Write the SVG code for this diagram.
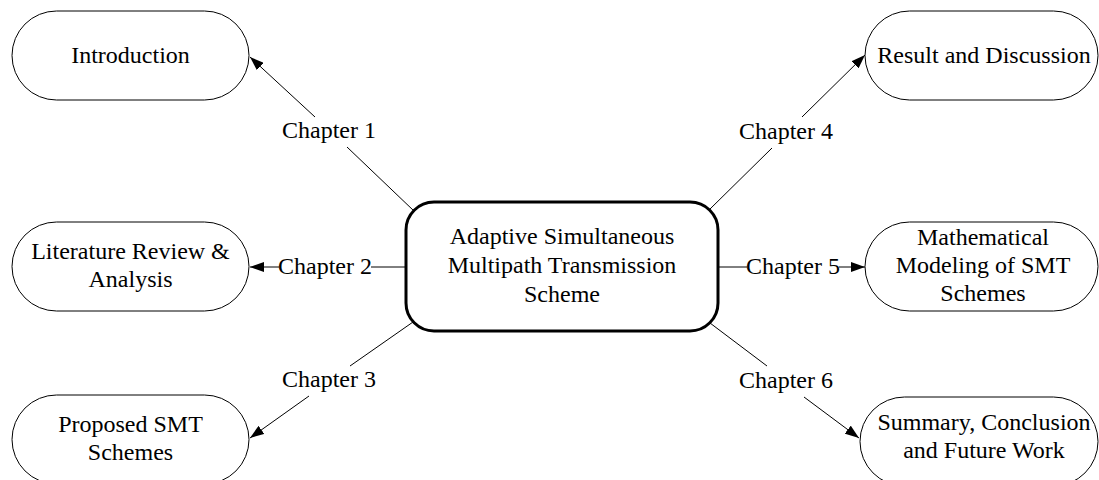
<svg xmlns="http://www.w3.org/2000/svg" width="1099" height="480" viewBox="0 0 1099 480">
  <style>
    text { font-family: "Liberation Serif", "Times New Roman", serif; font-size: 24px; fill: #000; text-anchor: middle; }
    .leaf { fill: #fff; stroke: #000; stroke-width: 1; }
    .hub { fill: #fff; stroke: #000; stroke-width: 3; }
    .edge { stroke: #000; stroke-width: 1; fill: none; }
  </style>
  <defs>
    <marker id="arrow" viewBox="0 0 14 10" refX="14" refY="5" markerUnits="userSpaceOnUse" markerWidth="14" markerHeight="10" orient="auto">
      <path d="M0,0 L14,5 L0,10 z" fill="#000"/>
    </marker>
  </defs>
  <rect width="1099" height="480" fill="#fff"/>

  <!-- connectors from the central scheme to each chapter -->
  <g id="connectors">
    <line class="edge" x1="414" y1="211" x2="347" y2="147"/>
    <line class="edge" x1="315" y1="117" x2="250" y2="57" marker-end="url(#arrow)"/>
    <text x="329" y="138">Chapter 1</text>

    <line class="edge" x1="406" y1="267" x2="371" y2="267"/>
    <line class="edge" x1="279" y1="267" x2="250" y2="267" marker-end="url(#arrow)"/>
    <text x="325" y="274">Chapter 2</text>

    <line class="edge" x1="413" y1="322" x2="350" y2="366"/>
    <line class="edge" x1="309" y1="396" x2="250" y2="438" marker-end="url(#arrow)"/>
    <text x="329" y="387">Chapter 3</text>

    <line class="edge" x1="709" y1="210" x2="772" y2="148"/>
    <line class="edge" x1="802" y1="117" x2="865" y2="55" marker-end="url(#arrow)"/>
    <text x="786" y="139">Chapter 4</text>

    <line class="edge" x1="718" y1="267" x2="747" y2="267"/>
    <line class="edge" x1="839" y1="267" x2="865" y2="267" marker-end="url(#arrow)"/>
    <text x="793" y="274">Chapter 5</text>

    <line class="edge" x1="710" y1="323" x2="767" y2="366"/>
    <line class="edge" x1="804" y1="397" x2="859" y2="438" marker-end="url(#arrow)"/>
    <text x="786" y="388">Chapter 6</text>
  </g>

  <g id="scheme">
    <rect class="hub" x="406" y="202" width="312" height="129" rx="28" ry="28"/>
    <text x="562" y="244">Adaptive Simultaneous</text>
    <text x="562" y="273">Multipath Transmission</text>
    <text x="562" y="302">Scheme</text>
  </g>

  <g id="introduction">
    <rect class="leaf" x="12" y="11" width="237" height="89" rx="44.5" ry="44.5"/>
    <text x="130.5" y="63">Introduction</text>
  </g>

  <g id="literature">
    <rect class="leaf" x="12" y="222" width="237" height="89" rx="44.5" ry="44.5"/>
    <text x="130.5" y="259">Literature Review &amp;</text>
    <text x="130.5" y="287">Analysis</text>
  </g>

  <g id="proposed">
    <rect class="leaf" x="12" y="395" width="237" height="89" rx="44.5" ry="44.5"/>
    <text x="130.5" y="432">Proposed SMT</text>
    <text x="130.5" y="460">Schemes</text>
  </g>

  <g id="result">
    <rect class="leaf" x="865" y="11" width="233" height="89" rx="44.5" ry="44.5"/>
    <text x="984" y="63">Result and Discussion</text>
  </g>

  <g id="modeling">
    <rect class="leaf" x="865" y="222" width="233" height="89" rx="44.5" ry="44.5"/>
    <text x="983" y="245">Mathematical</text>
    <text x="983" y="273">Modeling of SMT</text>
    <text x="983" y="301">Schemes</text>
  </g>

  <g id="summary">
    <rect class="leaf" x="860" y="397" width="238" height="89" rx="44.5" ry="44.5"/>
    <text x="984" y="430">Summary, Conclusion</text>
    <text x="984" y="458">and Future Work</text>
  </g>
</svg>
